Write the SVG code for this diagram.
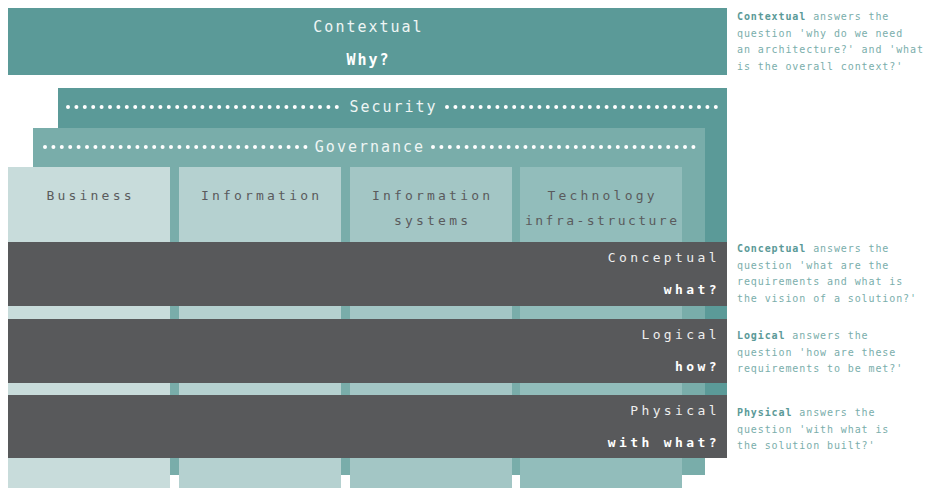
<svg xmlns="http://www.w3.org/2000/svg" width="940" height="488" viewBox="0 0 940 488">
<style>
text{font-family:"DejaVu Sans Mono","Liberation Mono",monospace;}
.big{font-size:15px;letter-spacing:2px;fill:#eef5f4;text-anchor:middle;}
.bigb{font-size:15px;letter-spacing:2px;fill:#ffffff;font-weight:bold;text-anchor:middle;}
.col{font-size:13px;letter-spacing:3.2px;fill:#5a5b5d;text-anchor:middle;}
.lvl{font-size:13px;letter-spacing:3.4px;fill:#eeeeee;text-anchor:end;}
.lvlb{font-size:13px;letter-spacing:3.4px;fill:#ffffff;font-weight:bold;text-anchor:end;}
.note{font-size:10px;letter-spacing:0.9px;fill:#7aaeab;}
.note tspan.b{font-weight:bold;fill:#5b9a98;}
.dots{stroke:#ffffff;stroke-width:4;stroke-linecap:round;stroke-dasharray:0 8.4;fill:none;}
.dark{fill:#58595b;}
</style>

<g id="contextual">
<rect x="8" y="8" width="719" height="67" fill="#5b9a98"/>
<text class="big" x="368.5" y="32">Contextual</text>
<text class="bigb" x="368.5" y="65">Why?</text>
</g>

<g id="security">
<rect x="58" y="88" width="669" height="370" fill="#5b9a98"/>
<line class="dots" x1="68" y1="107" x2="336.9" y2="107"/>
<line class="dots" x1="447" y1="107" x2="715.9" y2="107"/>
<text class="big" x="393.5" y="112">Security</text>
</g>

<g id="governance">
<rect x="33" y="128" width="672" height="347" fill="#79adaa"/>
<line class="dots" x1="45" y1="147" x2="305.5" y2="147"/>
<line class="dots" x1="433" y1="147" x2="693.5" y2="147"/>
<text class="big" x="370" y="152">Governance</text>
</g>

<g id="business">
<rect x="8" y="167" width="162" height="321" fill="#c8dcdb"/>
<text class="col" x="90.6" y="200">Business</text>
</g>

<g id="information">
<rect x="179" y="167" width="162" height="321" fill="#b5d1d0"/>
<text class="col" x="261.6" y="200">Information</text>
</g>

<g id="information-systems">
<rect x="350" y="167" width="162" height="321" fill="#a3c6c5"/>
<text class="col" x="432.6" y="200">Information</text>
<text class="col" x="432.6" y="225">systems</text>
</g>

<g id="technology">
<rect x="520" y="167" width="162" height="321" fill="#92bdbb"/>
<text class="col" x="602.6" y="200">Technology</text>
<text class="col" x="601" y="225" textLength="152" lengthAdjust="spacing" style="letter-spacing:0">infra-structure</text>
</g>

<g id="conceptual">
<rect class="dark" x="8" y="242" width="719" height="64"/>
<text class="lvl" x="720" y="262">Conceptual</text>
<text class="lvlb" x="720" y="294">what?</text>
</g>

<g id="logical">
<rect class="dark" x="8" y="319" width="719" height="64"/>
<text class="lvl" x="720" y="339">Logical</text>
<text class="lvlb" x="720" y="371">how?</text>
</g>

<g id="physical">
<rect class="dark" x="8" y="395" width="719" height="63"/>
<text class="lvl" x="720" y="415">Physical</text>
<text class="lvlb" x="720" y="447">with what?</text>
</g>

<g id="notes">
<text class="note" x="737" y="20"><tspan class="b">Contextual</tspan> answers the</text>
<text class="note" x="737" y="36.7">question 'why do we need</text>
<text class="note" x="737" y="53.3">an architecture?' and 'what</text>
<text class="note" x="737" y="70">is the overall context?'</text>

<text class="note" x="737" y="252"><tspan class="b">Conceptual</tspan> answers the</text>
<text class="note" x="737" y="268.5">question 'what are the</text>
<text class="note" x="737" y="285">requirements and what is</text>
<text class="note" x="737" y="301.5">the vision of a solution?'</text>

<text class="note" x="737" y="339"><tspan class="b">Logical</tspan> answers the</text>
<text class="note" x="737" y="355.5">question 'how are these</text>
<text class="note" x="737" y="372">requirements to be met?'</text>

<text class="note" x="737" y="416"><tspan class="b">Physical</tspan> answers the</text>
<text class="note" x="737" y="432.5">question 'with what is</text>
<text class="note" x="737" y="449">the solution built?'</text>
</g>
</svg>
